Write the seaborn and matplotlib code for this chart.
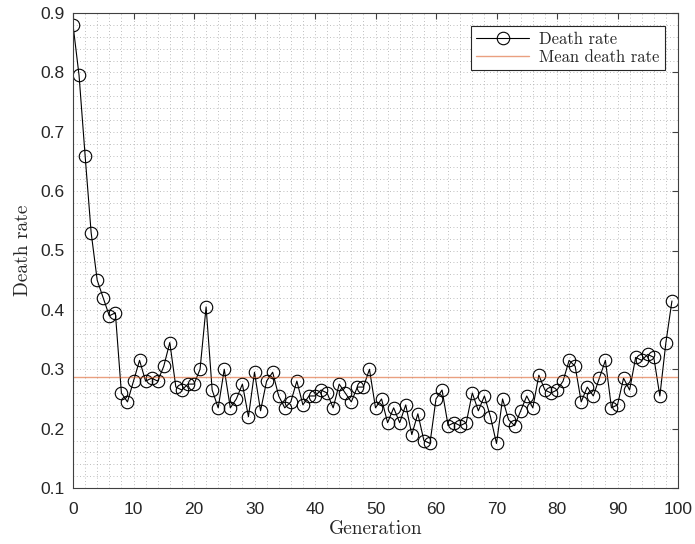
import numpy as np
import pandas as pd
import matplotlib
matplotlib.use("Agg")
import matplotlib.pyplot as plt
from matplotlib.ticker import MultipleLocator
import seaborn as sns

generations = list(range(100))
death_rate = [
    0.88, 0.795, 0.66, 0.53, 0.45, 0.42, 0.39, 0.395, 0.26, 0.245,
    0.28, 0.315, 0.28, 0.285, 0.28, 0.305, 0.345, 0.27, 0.265, 0.275,
    0.275, 0.30, 0.405, 0.265, 0.235, 0.30, 0.235, 0.25, 0.275, 0.22,
    0.295, 0.23, 0.28, 0.295, 0.255, 0.235, 0.245, 0.28, 0.24, 0.255,
    0.255, 0.265, 0.26, 0.235, 0.275, 0.26, 0.245, 0.27, 0.27, 0.30,
    0.235, 0.25, 0.21, 0.235, 0.21, 0.24, 0.19, 0.225, 0.18, 0.175,
    0.25, 0.265, 0.205, 0.21, 0.205, 0.21, 0.26, 0.23, 0.255, 0.22,
    0.175, 0.25, 0.215, 0.205, 0.23, 0.255, 0.235, 0.29, 0.265, 0.26,
    0.265, 0.28, 0.315, 0.305, 0.245, 0.27, 0.255, 0.285, 0.315, 0.235,
    0.24, 0.285, 0.265, 0.32, 0.315, 0.325, 0.32, 0.255, 0.345, 0.415,
]
mean_rate = float(np.mean(death_rate))

y_ticks = [0.1, 0.2, 0.3, 0.4, 0.5, 0.6, 0.7, 0.8, 0.9]
x_ticks = list(range(0, 101, 10))

df = pd.DataFrame({"Generation": generations, "Death rate": death_rate})

sns.set_style("white")
plt.rcParams["font.family"] = ["Liberation Sans", "DejaVu Sans"]

W, H = 695, 544
fig = plt.figure(figsize=(W / 100, H / 100), dpi=100)
left, right, top, bottom = 73, 678, 13, 488
ax = fig.add_axes([left / W, 1 - bottom / H, (right - left) / W, (bottom - top) / H])

sns.lineplot(data=df, x="Generation", y="Death rate", ax=ax,
             color="black", linewidth=0.8, marker="o", markersize=9,
             markerfacecolor="none", markeredgecolor="black",
             markeredgewidth=0.8, label="Death rate")
ax.axhline(mean_rate, color="#D95319", alpha=0.55, linewidth=1.0,
           label="Mean death rate")

ax.set_xlim(0, 100)
ax.set_ylim(0.1, 0.9)
ax.set_xticks(x_ticks)
ax.set_xticklabels([str(v) for v in x_ticks])
ax.set_yticks(y_ticks)
ax.set_yticklabels([f"{v:.1f}" for v in y_ticks])
ax.xaxis.set_minor_locator(MultipleLocator(2))
ax.yaxis.set_minor_locator(MultipleLocator(0.02))

ax.grid(which="both", linestyle=(0, (1, 3)), color="#a8a8a8", linewidth=0.6)
ax.set_axisbelow(True)

for s in ax.spines.values():
    s.set_color("#404040")
    s.set_linewidth(0.8)
ax.tick_params(which="major", direction="in", length=4, width=0.8,
               top=True, right=True, labelsize=12.5, colors="#404040",
               labelcolor="#262626")
ax.tick_params(axis="x", which="major", pad=10)
ax.tick_params(axis="y", which="major", pad=6)
ax.tick_params(which="minor", length=0, top=True, right=True)

label_font = dict(family="cmr10", size=14, color="#262626")
ax.set_xlabel("Generation", fontdict=label_font, labelpad=2)
ax.set_ylabel("Death rate", fontdict=label_font, labelpad=6)

leg = ax.legend(loc="upper right", prop={"family": "cmr10", "size": 12},
                frameon=True, fancybox=False, edgecolor="#262626",
                framealpha=1, borderaxespad=0.8, handlelength=3.2,
                borderpad=0.3, labelspacing=0.2, handletextpad=0.6)
leg.get_frame().set_linewidth(0.8)

fig.savefig("out.png", dpi=100)
